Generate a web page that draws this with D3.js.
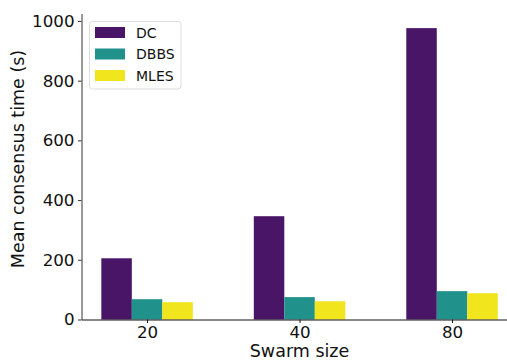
<!DOCTYPE html>
<html><head><meta charset="utf-8">
<script src="https://d3js.org/d3.v7.min.js"></script>
<style>body{margin:0;background:#fff}svg{display:block;font-family:"DejaVu Sans",sans-serif}</style>
</head><body>
<svg id="c" width="507" height="360"></svg>
<script>
const categories = ["20", "40", "80"];
const seriesNames = ["DC", "DBBS", "MLES"];
const DC = [205, 346, 976];
const DBBS = [68, 75, 95];
const MLES = [58, 61, 88];
const yTicks = [0, 200, 400, 600, 800, 1000];
const colors = ["#481567", "#21918c", "#f1e51d"];
const series = [DC, DBBS, MLES];

(function () {
const svg = d3.select("#c");
const FF = "DejaVu Sans";
const mLeft = 81.5, mBottom = 319.5, mTop = 13.5, mRight = 517.6;
const x = d3.scaleLinear().domain([-0.43, 2.43]).range([mLeft, mRight]);
const y = d3.scaleLinear().domain([0, 1025]).range([mBottom, mTop]);
const bw = 0.2;

series.forEach((vals, si) => {
  svg.append("g").selectAll("rect").data(vals).join("rect")
    .attr("x", (d, i) => x(i + (si - 1) * bw - bw / 2))
    .attr("width", x(bw) - x(0))
    .attr("y", d => y(d))
    .attr("height", d => y(0) - y(d))
    .attr("fill", colors[si]);
});

const yAxis = svg.append("g").attr("transform", `translate(${mLeft},0)`)
  .call(d3.axisLeft(y).tickValues(yTicks).tickFormat(d3.format("d")).tickSize(3.5).tickPadding(3.5).tickSizeOuter(0));
yAxis.attr("font-family", FF);
yAxis.select(".domain").attr("stroke", "#333").attr("stroke-width", 1);
yAxis.selectAll(".tick line").attr("stroke", "#333");
yAxis.selectAll("text").attr("font-size", 16.7).attr("fill", "#111");

const xAxis = svg.append("g").attr("transform", `translate(0,${mBottom})`)
  .call(d3.axisBottom(x).tickValues([0, 1, 2]).tickFormat(i => categories[i]).tickSize(3.5).tickPadding(3.5).tickSizeOuter(0));
xAxis.attr("font-family", FF);
xAxis.select(".domain").attr("stroke", "#111").attr("stroke-width", 1);
xAxis.selectAll(".tick line").attr("stroke", "#111");
xAxis.selectAll("text").attr("font-size", 16.7).attr("fill", "#111");

svg.append("text").attr("x", x(1)).attr("y", 357).attr("text-anchor", "middle")
  .attr("font-family", FF).attr("font-size", 17.5).attr("fill", "#111").text("Swarm size");
svg.append("text").attr("transform", `translate(24,159) rotate(-90)`)
  .attr("text-anchor", "middle").attr("font-family", FF).attr("font-size", 17.5).attr("fill", "#111").text("Mean consensus time (s)");

const lg = svg.append("g").attr("transform", "translate(89.5,21.5)");
lg.append("rect").attr("width", 91.5).attr("height", 67.5).attr("rx", 3)
  .attr("fill", "#fff").attr("fill-opacity", 0.8).attr("stroke", "#ddd");
seriesNames.forEach((n, i) => {
  lg.append("rect").attr("x", 5.5).attr("y", 5.5 + i * 21.5).attr("width", 30).attr("height", 11).attr("fill", colors[i]);
  lg.append("text").attr("x", 46.5).attr("y", 16 + i * 21.5).attr("font-family", FF).attr("font-size", 14).attr("fill", "#111").text(n);
});
})();
</script>
</body></html>
